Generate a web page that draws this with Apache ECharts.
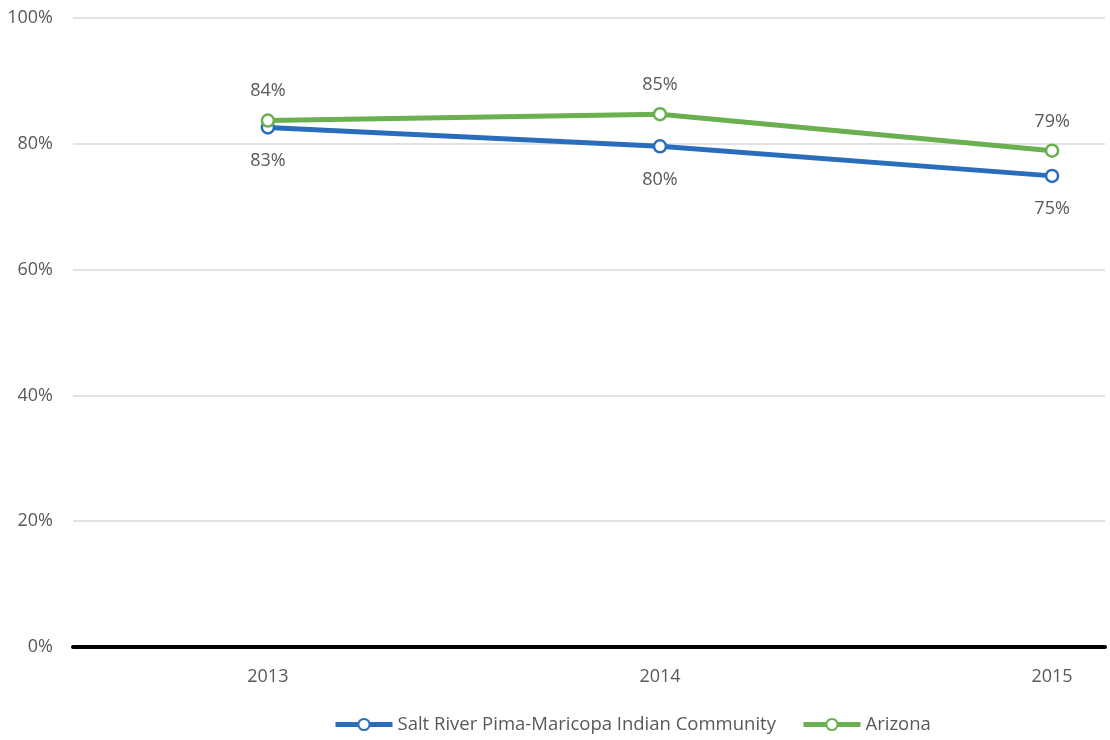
<!DOCTYPE html>
<html>
<head>
<meta charset="utf-8">
<script src="https://cdn.jsdelivr.net/npm/echarts@6/dist/echarts.min.js"></script>
<style>
  html, body { margin: 0; padding: 0; background: #fff; }
  #chart { width: 1110px; height: 740px; }
</style>
</head>
<body>
<div id="chart"></div>
<script>
// data
var years = [2013, 2014, 2015];
var saltRiver = [82.6, 79.6, 74.9];
var arizona = [83.7, 84.7, 78.9];
var yTicks = [0, 20, 40, 60, 80, 100];

var textColor = "#595959";
var font = "'Open Sans', 'Noto Sans', sans-serif";

function pairs(vals) {
  return years.map(function (y, i) { return [y, vals[i]]; });
}

function lineSeries(name, vals, color, pos, dist) {
  return {
    name: name,
    type: "line",
    data: pairs(vals),
    symbol: "circle",
    symbolSize: 12,
    lineStyle: { color: color, width: 5 },
    itemStyle: { color: "#fff", borderColor: color, borderWidth: 2.5 },
    label: {
      show: true,
      position: pos,
      distance: dist,
      color: textColor,
      fontSize: 18,
      fontFamily: font,
      formatter: function (p) { return Math.round(p.value[1]) + "%"; }
    },
    emphasis: { disabled: true },
    animation: false
  };
}

var chart = echarts.init(document.getElementById("chart"));
chart.setOption({
  backgroundColor: "#fff",
  grid: { left: 73, right: 5, top: 18, bottom: 93 },
  legend: {
    bottom: 1,
    left: 328,
    itemWidth: 57,
    itemHeight: 14,
    itemGap: 25,
    lineStyle: { width: 5 },
    textStyle: { color: textColor, fontSize: 18.5, fontFamily: font },
    data: ["Salt River Pima-Maricopa Indian Community", "Arizona"]
  },
  xAxis: {
    type: "value",
    min: 2012.503,
    max: 2015.135,
    axisLine: { show: true, onZero: false, lineStyle: { color: "#000", width: 4 } },
    axisTick: { show: false },
    splitLine: { show: false },
    axisLabel: {
      customValues: years,
      color: textColor,
      fontSize: 18,
      fontFamily: font,
      margin: 21,
      formatter: function (v) { return String(v); }
    }
  },
  yAxis: {
    type: "value",
    min: 0,
    max: 100,
    interval: 20,
    axisLine: { show: false },
    axisTick: { show: false },
    splitLine: { lineStyle: { color: "#d9d9d9", width: 1.5 } },
    axisLabel: {
      color: textColor,
      fontSize: 18,
      fontFamily: font,
      margin: 20,
      formatter: function (v) { return yTicks.indexOf(v) >= 0 ? v + "%" : ""; }
    }
  },
  series: [
    lineSeries("Salt River Pima-Maricopa Indian Community", saltRiver, "#2a6ebb", "bottom", 17),
    lineSeries("Arizona", arizona, "#6aaf50", "top", 13)
  ]
});
</script>
</body>
</html>
